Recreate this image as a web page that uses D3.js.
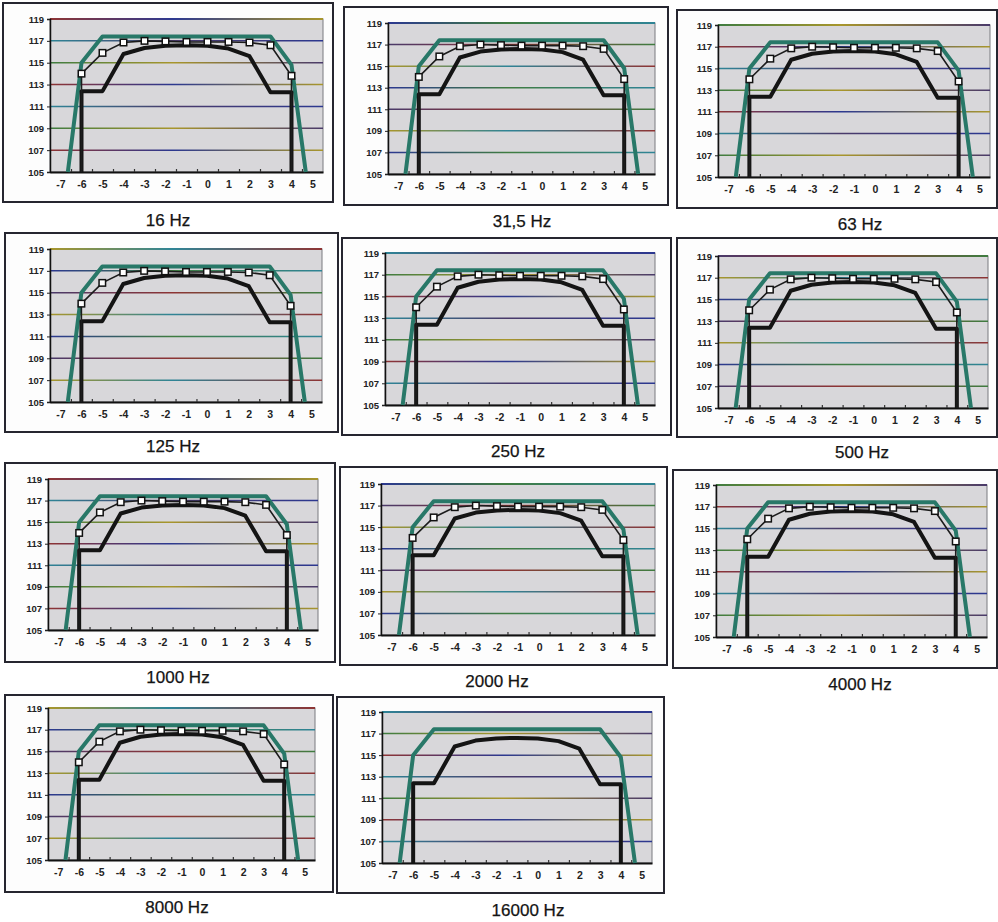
<!DOCTYPE html>
<html>
<head>
<meta charset="utf-8">
<script src="https://cdn.jsdelivr.net/npm/d3@7"></script>
<style>
  html, body { margin: 0; padding: 0; background: #ffffff; }
  svg { display: block; }
</style>
</head>
<body>
<script>
// Panel titles (octave band centre frequencies)
const titles = ["16 Hz", "31,5 Hz", "63 Hz", "125 Hz", "250 Hz", "500 Hz",
                "1000 Hz", "2000 Hz", "4000 Hz", "8000 Hz", "16000 Hz"];

// Axis ticks
const xTicks = [-7, -6, -5, -4, -3, -2, -1, 0, 1, 2, 3, 4, 5];
const yTicks = [105, 107, 109, 111, 113, 115, 117, 119];

// Upper tolerance limit (green)
const upperX = [-6.65, -6, -5, 3, 4, 4.68];
const upperY = [105, 115.0, 117.4, 117.4, 114.8, 105];

// Lower tolerance limit (black)
const lowerX = [-6, -6, -5, -4, -3, -2, -1, 0, 1, 2, 3, 4, 4];
const lowerY = [105, 112.4, 112.4, 115.8, 116.35, 116.55, 116.6, 116.55, 116.3, 115.6, 112.3, 112.3, 105];

// Measured response (white squares)
const measX = [-6, -6, -5, -4, -3, -2, -1, 0, 1, 2, 3, 4, 4];
const measY = [105, 114.0, 115.9, 116.85, 117.0, 116.95, 116.9, 116.9, 116.9, 116.85, 116.6, 113.8, 105];

// Which panels carry a measured curve
const hasMeasured = [true, true, true, true, true, true, true, true, true, true, false];

// Page layout of every panel: outer frame, plot area, title position
const layout = [
  { frame: [3, 3, 330, 199],   plot: [50, 19, 273, 153],   title: [168, 226] },
  { frame: [344, 7, 324, 198], plot: [388, 23, 267, 151],  title: [522, 227] },
  { frame: [677, 10, 320, 198], plot: [718, 25, 272, 152], title: [860, 230] },
  { frame: [5, 233, 333, 199], plot: [50, 249, 272, 153],  title: [173, 452] },
  { frame: [342, 238, 329, 197], plot: [385, 253, 270, 152], title: [518, 457] },
  { frame: [677, 238, 320, 199], plot: [718, 256, 270, 152], title: [862, 458] },
  { frame: [5, 463, 330, 199], plot: [48, 479, 270, 151],  title: [178, 683] },
  { frame: [340, 467, 327, 198], plot: [381, 484, 274, 151], title: [497, 687] },
  { frame: [673, 470, 324, 198], plot: [716, 485, 271, 152], title: [860, 690] },
  { frame: [5, 695, 328, 197], plot: [48, 708, 267, 152],  title: [177, 913] },
  { frame: [337, 697, 327, 196], plot: [382, 712, 270, 151], title: [528, 916] }
];

// Gridline tints
const gridPalette = ["#8e3434", "#2c3890", "#3f7c40", "#a8962c", "#2f8496", "#4a3a6a"];

const svg = d3.select("body").append("svg")
  .attr("width", 998).attr("height", 922);
const defs = svg.append("defs");

const font = "'Liberation Sans', Arial, sans-serif";
const plain = d => String(d);

titles.forEach((title, p) => {
  const L = layout[p];
  const [fx, fy, fw, fh] = L.frame;
  const [px, py, pw, ph] = L.plot;
  const g = svg.append("g");

  const x = d3.scaleLinear().domain([-7.5, 5.5]).range([px, px + pw]);
  const y = d3.scaleLinear().domain([105, 119]).range([py + ph, py]);

  // chart frame
  g.append("rect")
    .attr("x", fx).attr("y", fy).attr("width", fw).attr("height", fh)
    .attr("fill", "#fdfdfd").attr("stroke", "#262630").attr("stroke-width", 2);

  // plot area
  g.append("rect")
    .attr("x", px).attr("y", py).attr("width", pw).attr("height", ph)
    .attr("fill", "#d8d7da").attr("stroke", "#7a7a80").attr("stroke-width", 1);

  // gridlines, each with its own tint gradient
  yTicks.filter(v => v > 105).forEach((v, i) => {
    const id = `grid-${p}-${i}`;
    const grad = defs.append("linearGradient").attr("id", id)
      .attr("gradientUnits", "userSpaceOnUse")
      .attr("x1", px).attr("x2", px + pw).attr("y1", 0).attr("y2", 0);
    const c0 = gridPalette[(i * 2 + p) % 6];
    const c1 = gridPalette[(i * 2 + p + 1) % 6];
    const c2 = gridPalette[(i * 2 + p + 3) % 6];
    grad.append("stop").attr("offset", "0%").attr("stop-color", c0);
    grad.append("stop").attr("offset", "45%").attr("stop-color", c1);
    grad.append("stop").attr("offset", "100%").attr("stop-color", c2);
    g.append("line")
      .attr("x1", px).attr("x2", px + pw)
      .attr("y1", y(v)).attr("y2", y(v))
      .attr("stroke", `url(#${id})`)
      .attr("stroke-width", v === 119 ? 1.8 : 1.5);
  });

  // y axis
  const ya = g.append("g").attr("transform", `translate(${px},0)`)
    .call(d3.axisLeft(y).tickValues(yTicks).tickFormat(plain).tickSize(3).tickPadding(3));
  ya.select(".domain").attr("stroke", "#111").attr("stroke-width", 1.5);
  ya.selectAll(".tick line").attr("stroke", "#222");
  ya.selectAll("text")
    .attr("font-family", font).attr("font-size", 9.5).attr("font-weight", "bold")
    .attr("fill", "#222");

  // x axis labels
  const xa = g.append("g").attr("transform", `translate(0,${py + ph})`)
    .call(d3.axisBottom(x).tickValues(xTicks).tickFormat(plain).tickSize(0).tickPadding(9));
  xa.select(".domain").attr("stroke", "#111").attr("stroke-width", 1.8);
  xa.selectAll("text")
    .attr("font-family", font).attr("font-size", 10.5).attr("font-weight", "bold")
    .attr("fill", "#222");

  // category separators on the x axis
  const sep = d3.range(-6.5, 5, 1);
  const xs = g.append("g").attr("transform", `translate(0,${py + ph})`)
    .call(d3.axisBottom(x).tickValues(sep).tickSize(-3).tickFormat(""));
  xs.select(".domain").remove();
  xs.selectAll(".tick line").attr("stroke", "#333").attr("stroke-width", 1.2);

  const line = d3.line().x(d => x(d[0])).y(d => y(d[1]));

  // upper limit
  g.append("path")
    .datum(upperX.map((v, i) => [v, upperY[i]]))
    .attr("d", line)
    .attr("fill", "none").attr("stroke", "#287868").attr("stroke-width", 4)
    .attr("stroke-linejoin", "round");

  // lower limit
  g.append("path")
    .datum(lowerX.map((v, i) => [v, lowerY[i]]))
    .attr("d", line)
    .attr("fill", "none").attr("stroke", "#141414").attr("stroke-width", 4)
    .attr("stroke-linejoin", "round");

  // measured curve with square markers
  if (hasMeasured[p]) {
    const pts = measX.map((v, i) => [v, measY[i]]);
    g.append("path")
      .datum(pts)
      .attr("d", line)
      .attr("fill", "none").attr("stroke", "#1c1c1c").attr("stroke-width", 1.6);
    const s = 6.5;
    g.selectAll(null)
      .data(pts.filter(d => d[1] > 105))
      .join("rect")
      .attr("x", d => x(d[0]) - s / 2).attr("y", d => y(d[1]) - s / 2)
      .attr("width", s).attr("height", s)
      .attr("fill", "#ffffff").attr("stroke", "#111").attr("stroke-width", 1.5);
  }

  // title
  g.append("text")
    .attr("x", L.title[0]).attr("y", L.title[1])
    .attr("text-anchor", "middle")
    .attr("font-family", font).attr("font-size", 17)
    .attr("fill", "#141414").attr("stroke", "#141414").attr("stroke-width", 0.25)
    .text(title);
});
</script>
</body>
</html>
